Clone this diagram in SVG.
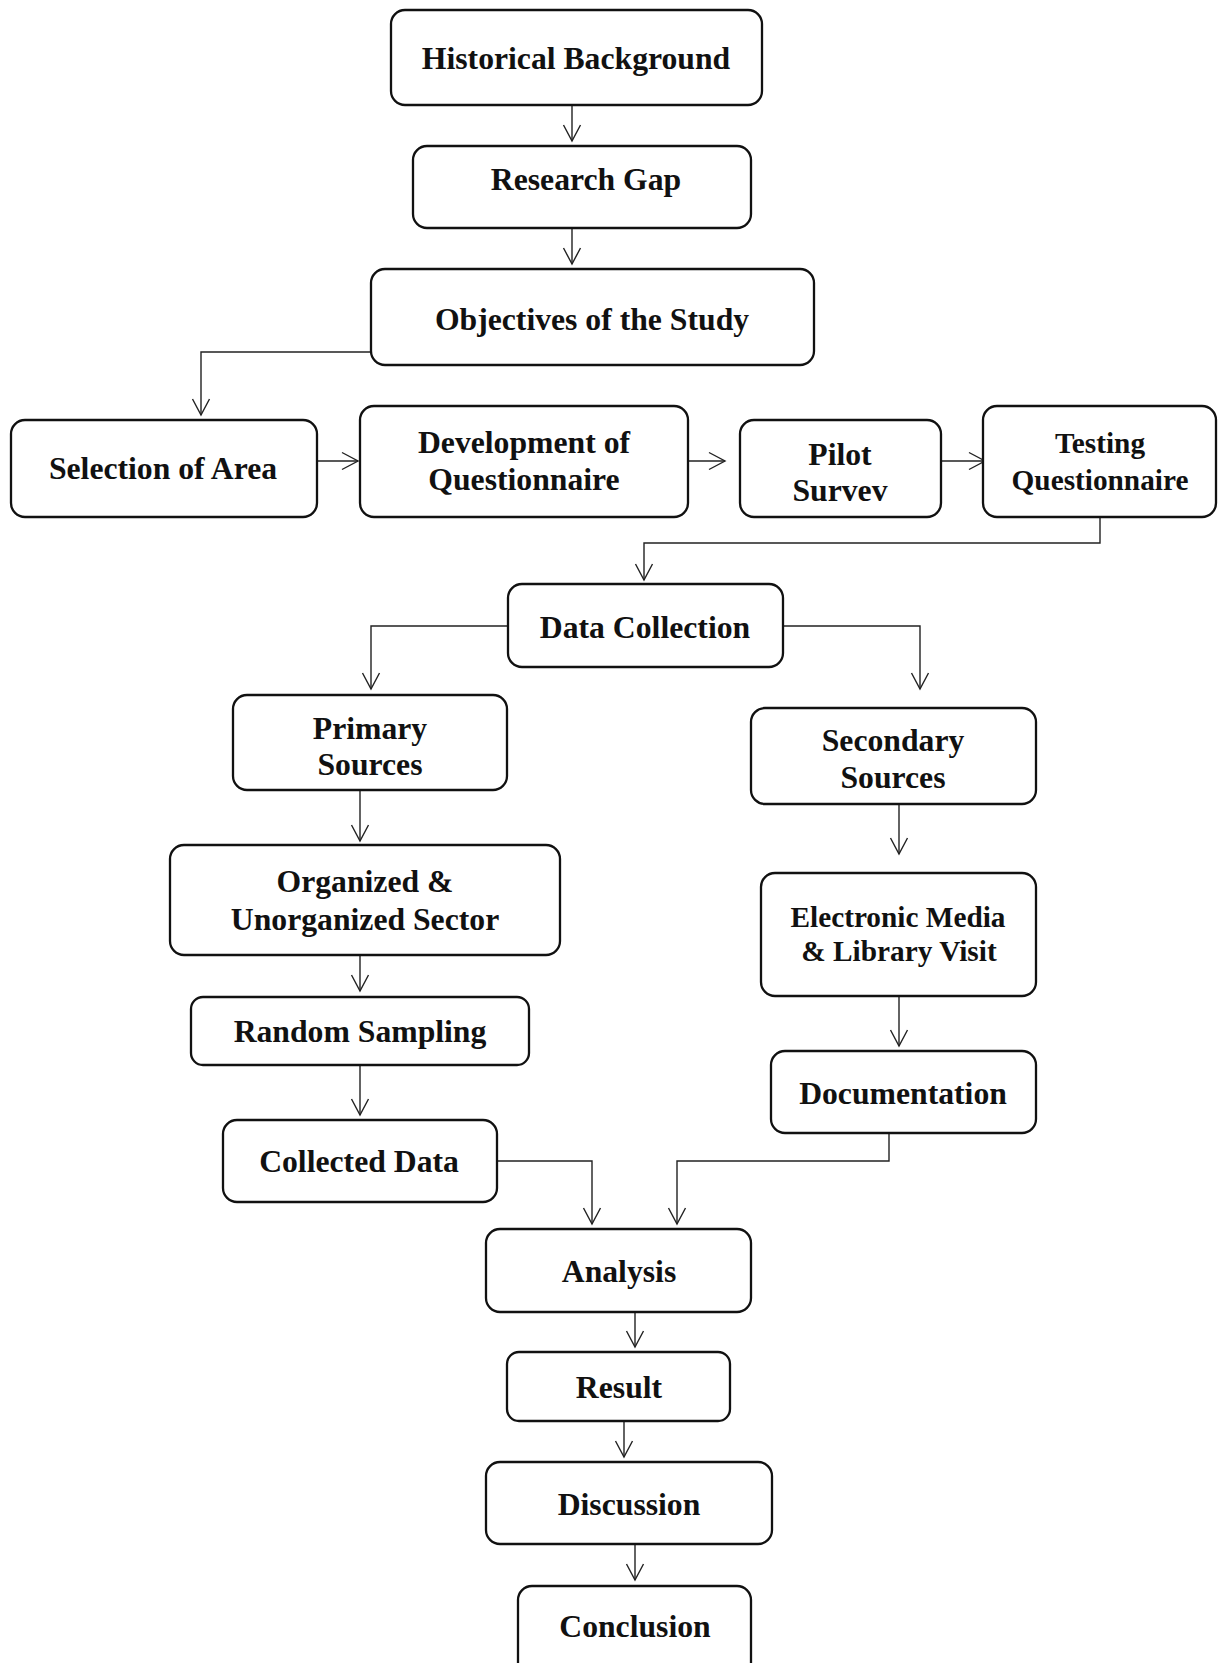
<svg xmlns="http://www.w3.org/2000/svg" width="1225" height="1663" viewBox="0 0 1225 1663">
  <style>
    .box { fill: #ffffff; stroke: #111111; stroke-width: 2.3; }
    .lbl { font-family: "Liberation Serif", "Times New Roman", serif; font-weight: bold; font-size: 31.7px; fill: #111111; text-anchor: middle; }
    .sm { font-size: 29.3px; }
    .link { fill: none; stroke: #222222; stroke-width: 1.4; marker-end: url(#arr); }
  </style>
  <defs>
    <marker id="arr" viewBox="-18 -10 20 20" refX="0" refY="0" markerWidth="20" markerHeight="20" markerUnits="userSpaceOnUse" orient="auto">
      <path d="M-16,-8.5 L0,0 L-16,8.5" fill="none" stroke="#222222" stroke-width="1.4"/>
    </marker>
  </defs>
  <rect width="1225" height="1663" fill="#ffffff"/>

  <g id="connectors">
    <path class="link" d="M572,105 V141"/>
    <path class="link" d="M572,228 V264"/>
    <path class="link" d="M371,352 H201 V415"/>
    <path class="link" d="M318,461 H358"/>
    <path class="link" d="M688,461 H725"/>
    <path class="link" d="M942,461 H985"/>
    <path class="link" d="M1100,517 V543 H644 V580"/>
    <path class="link" d="M508,626 H371 V689"/>
    <path class="link" d="M784,626 H920 V689"/>
    <path class="link" d="M360,790 V841"/>
    <path class="link" d="M360,955 V991"/>
    <path class="link" d="M360,1065 V1115"/>
    <path class="link" d="M899,804 V854"/>
    <path class="link" d="M899,996 V1046"/>
    <path class="link" d="M497,1161 H592 V1224"/>
    <path class="link" d="M889,1133 V1161 H677 V1224"/>
    <path class="link" d="M635,1312 V1347"/>
    <path class="link" d="M624,1421 V1457"/>
    <path class="link" d="M635,1544 V1580"/>
  </g>

  <g id="historical-background">
    <rect class="box" x="391" y="10" width="371" height="95" rx="14"/>
    <text class="lbl" x="576" y="69">Historical Background</text>
  </g>
  <g id="research-gap">
    <rect class="box" x="413" y="146" width="338" height="82" rx="14"/>
    <text class="lbl" x="586" y="190">Research Gap</text>
  </g>
  <g id="objectives">
    <rect class="box" x="371" y="269" width="443" height="96" rx="14"/>
    <text class="lbl" x="592" y="330">Objectives of the Study</text>
  </g>
  <g id="selection-of-area">
    <rect class="box" x="11" y="420" width="306" height="97" rx="14"/>
    <text class="lbl" x="163" y="479">Selection of Area</text>
  </g>
  <g id="development-of-questionnaire">
    <rect class="box" x="360" y="406" width="328" height="111" rx="14"/>
    <text class="lbl" x="524" y="453">Development of</text>
    <text class="lbl" x="524" y="490">Questionnaire</text>
  </g>
  <g id="pilot-survey">
    <rect class="box" x="740" y="420" width="201" height="97" rx="14"/>
    <text class="lbl" x="840" y="465">Pilot</text>
    <text class="lbl" x="840" y="501">Survev</text>
  </g>
  <g id="testing-questionnaire">
    <rect class="box" x="983" y="406" width="233" height="111" rx="14"/>
    <text class="lbl sm" x="1100" y="453">Testing</text>
    <text class="lbl sm" x="1100" y="490">Questionnaire</text>
  </g>
  <g id="data-collection">
    <rect class="box" x="508" y="584" width="275" height="83" rx="14"/>
    <text class="lbl" x="645" y="638">Data Collection</text>
  </g>
  <g id="primary-sources">
    <rect class="box" x="233" y="695" width="274" height="95" rx="14"/>
    <text class="lbl" x="370" y="739">Primary</text>
    <text class="lbl" x="370" y="775">Sources</text>
  </g>
  <g id="secondary-sources">
    <rect class="box" x="751" y="708" width="285" height="96" rx="14"/>
    <text class="lbl" x="893" y="751">Secondary</text>
    <text class="lbl" x="893" y="788">Sources</text>
  </g>
  <g id="organized-sector">
    <rect class="box" x="170" y="845" width="390" height="110" rx="14"/>
    <text class="lbl" x="365" y="892">Organized &amp;</text>
    <text class="lbl" x="365" y="930">Unorganized Sector</text>
  </g>
  <g id="random-sampling">
    <rect class="box" x="191" y="997" width="338" height="68" rx="12"/>
    <text class="lbl" x="360" y="1042">Random Sampling</text>
  </g>
  <g id="collected-data">
    <rect class="box" x="223" y="1120" width="274" height="82" rx="14"/>
    <text class="lbl" x="359" y="1172">Collected Data</text>
  </g>
  <g id="electronic-media">
    <rect class="box" x="761" y="873" width="275" height="123" rx="14"/>
    <text class="lbl sm" x="898" y="927">Electronic Media</text>
    <text class="lbl sm" x="899" y="961">&amp; Library Visit</text>
  </g>
  <g id="documentation">
    <rect class="box" x="771" y="1051" width="265" height="82" rx="14"/>
    <text class="lbl" x="903" y="1104">Documentation</text>
  </g>
  <g id="analysis">
    <rect class="box" x="486" y="1229" width="265" height="83" rx="14"/>
    <text class="lbl" x="619" y="1282">Analysis</text>
  </g>
  <g id="result">
    <rect class="box" x="507" y="1352" width="223" height="69" rx="12"/>
    <text class="lbl" x="619" y="1398">Result</text>
  </g>
  <g id="discussion">
    <rect class="box" x="486" y="1462" width="286" height="82" rx="14"/>
    <text class="lbl" x="629" y="1515">Discussion</text>
  </g>
  <g id="conclusion">
    <rect class="box" x="518" y="1586" width="233" height="95" rx="14"/>
    <text class="lbl" x="635" y="1637">Conclusion</text>
  </g>
</svg>
